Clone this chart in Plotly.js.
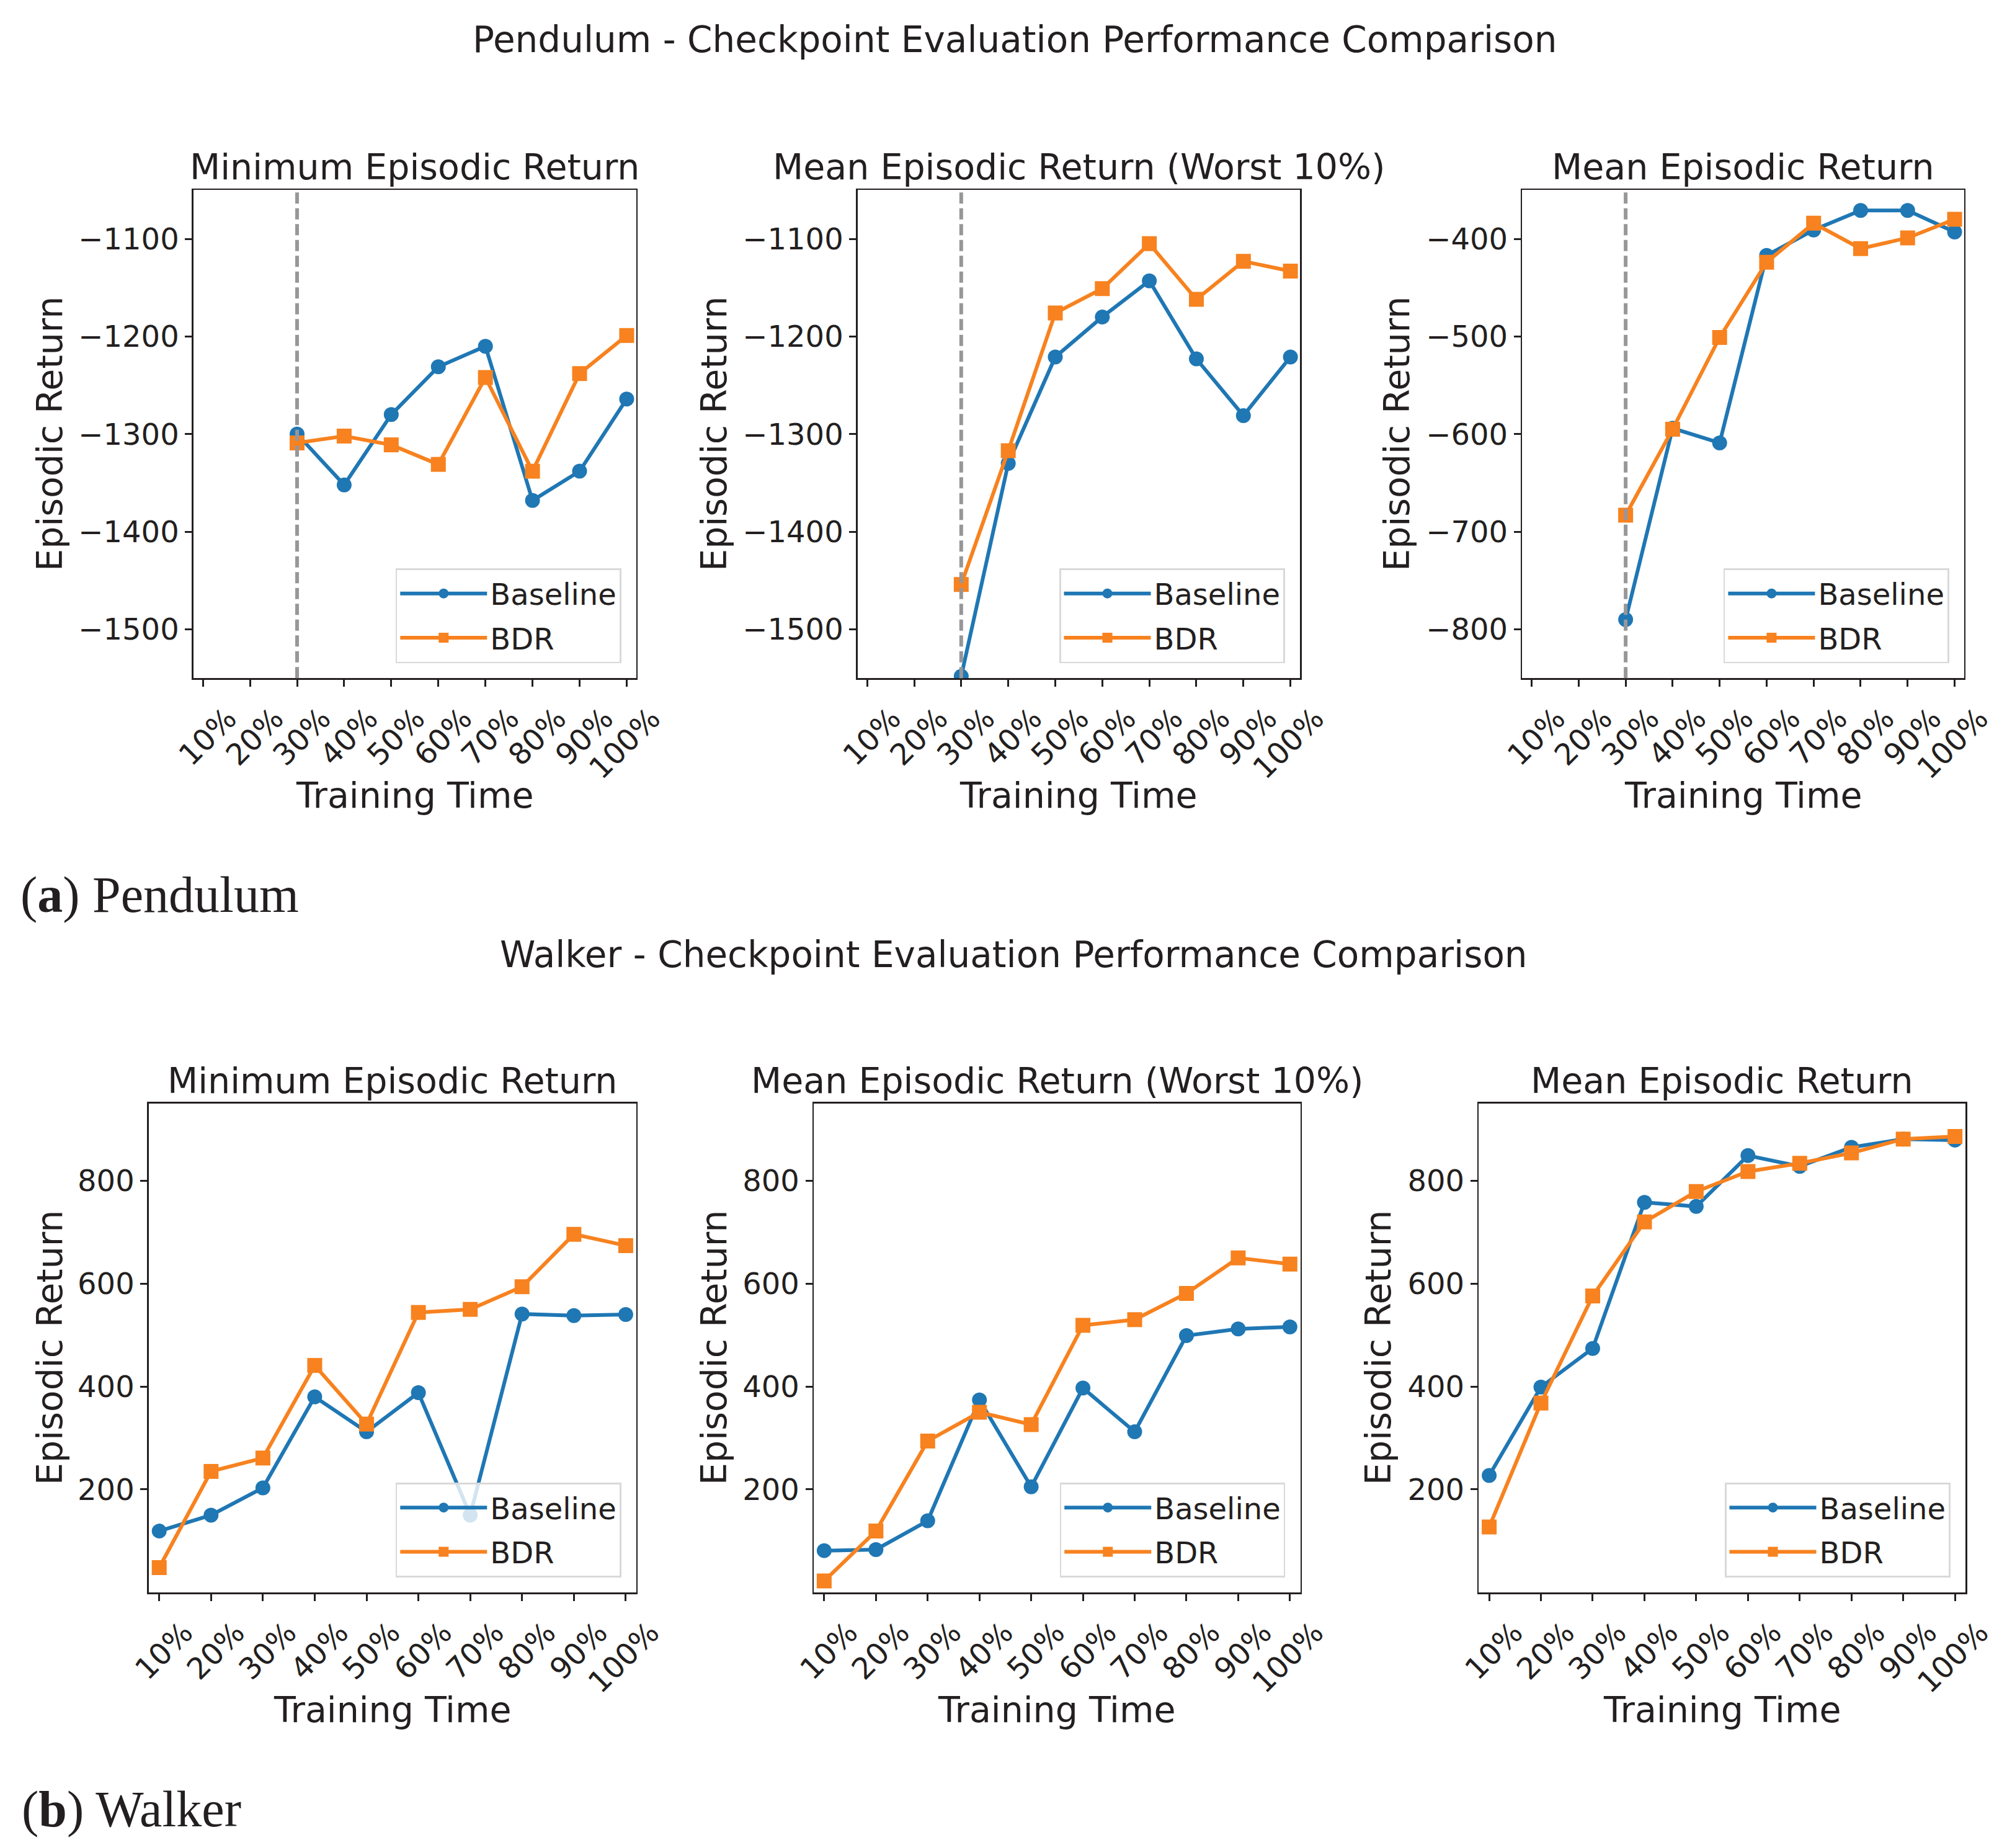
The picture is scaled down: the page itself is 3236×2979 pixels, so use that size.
<!DOCTYPE html>
<html>
<head>
<meta charset="utf-8">
<script src="https://cdn.plot.ly/plotly-3.0.1.min.js"></script>
<style>html,body{margin:0;padding:0;background:#fff;}#chart{width:3236px;height:2979px;}</style>
</head>
<body>
<div id="chart"></div>
<script>
// ---------- data ----------
const categories = ['10%', '20%', '30%', '40%', '50%', '60%', '70%', '80%', '90%', '100%'];
const pendulumCheckpoints = ['30%', '40%', '50%', '60%', '70%', '80%', '90%', '100%'];
const seriesNames = ['Baseline', 'BDR'];
const panelTitles = ['Minimum Episodic Return', 'Mean Episodic Return (Worst 10%)', 'Mean Episodic Return'];
const suptitles = ['Pendulum - Checkpoint Evaluation Performance Comparison', 'Walker - Checkpoint Evaluation Performance Comparison'];
const captions = ['(<b>a</b>) Pendulum', '(<b>b</b>) Walker'];
const xLabel = 'Training Time';
const yLabel = 'Episodic Return';

const pendMinBaseline   = [-1300, -1352, -1280, -1231, -1210, -1368, -1338, -1264];
const pendMinBDR        = [-1309, -1302, -1311, -1331, -1242, -1338, -1238, -1199];
const pendWorstBaseline = [-1548, -1330, -1221, -1180, -1143, -1223, -1281, -1221];
const pendWorstBDR      = [-1454, -1317, -1176, -1151, -1105, -1162, -1123, -1133];
const pendMeanBaseline  = [-790, -594, -609, -417, -391, -371, -371, -393];
const pendMeanBDR       = [-683, -595, -501, -424, -384, -410, -399, -380];

const walkMinBaseline   = [119, 150, 203, 380, 312, 388, 150, 541, 538, 540];
const walkMinBDR        = [48, 235, 261, 441, 327, 544, 550, 594, 696, 674];
const walkWorstBaseline = [81, 83, 139, 374, 205, 397, 312, 499, 512, 516];
const walkWorstBDR      = [22, 119, 294, 350, 326, 519, 530, 581, 650, 638];
const walkMeanBaseline  = [227, 399, 474, 758, 750, 849, 828, 865, 881, 879];
const walkMeanBDR       = [127, 368, 576, 720, 779, 818, 834, 854, 881, 886];

const pendMinTicks  = [-1500, -1400, -1300, -1200, -1100];
const pendMeanTicks = [-800, -700, -600, -500, -400];
const walkTicks     = [200, 400, 600, 800];
const pendMinRange  = [-1550, -1050];
const pendMeanRange = [-850, -350];
const walkRange     = [0, 950];
const thresholdCheckpoint = '30%';

// ---------- layout geometry (pixels) ----------
const W = 3236, H = 2979;
const TEXT = '#231f20';
const BLUE = '#1f77b4', ORANGE = '#f7821f';
const FONT = 'DejaVu Sans, Noto Sans, sans-serif';

const panels = [
  {x: [312, 1025.6],  y: [306.3, 1093.3], b: pendMinBaseline,   r: pendMinBDR,   cats: pendulumCheckpoints, ticks: pendMinTicks,  range: pendMinRange,  title: panelTitles[0], ylabX: 80,   vline: true},
  {x: [1383, 2095.8], y: [306.3, 1093.3], b: pendWorstBaseline, r: pendWorstBDR, cats: pendulumCheckpoints, ticks: pendMinTicks,  range: pendMinRange,  title: panelTitles[1], ylabX: 1151, vline: true},
  {x: [2454.4, 3166.7], y: [306.3, 1093.3], b: pendMeanBaseline, r: pendMeanBDR, cats: pendulumCheckpoints, ticks: pendMeanTicks, range: pendMeanRange, title: panelTitles[2], ylabX: 2252, vline: true},
  {x: [240, 1025.6],  y: [1779, 2566.8], b: walkMinBaseline,   r: walkMinBDR,   cats: categories, ticks: walkTicks, range: walkRange, title: panelTitles[0], ylabX: 80,   vline: false},
  {x: [1312.2, 2096.5], y: [1779, 2566.8], b: walkWorstBaseline, r: walkWorstBDR, cats: categories, ticks: walkTicks, range: walkRange, title: panelTitles[1], ylabX: 1151, vline: false},
  {x: [2384.4, 3168.8], y: [1779, 2566.8], b: walkMeanBaseline,  r: walkMeanBDR,  cats: categories, ticks: walkTicks, range: walkRange, title: panelTitles[2], ylabX: 2222, vline: false}
];

const px = v => v / W;
const py = v => 1 - v / H;

const traces = [];
const layout = {
  width: W, height: H,
  margin: {l: 0, r: 0, t: 0, b: 0, pad: 0},
  paper_bgcolor: '#ffffff', plot_bgcolor: '#ffffff',
  showlegend: true,
  font: {family: FONT, color: TEXT, size: 48},
  shapes: [], annotations: []
};

panels.forEach((p, i) => {
  const n = i + 1;
  const xa = 'xaxis' + (n === 1 ? '' : n), ya = 'yaxis' + (n === 1 ? '' : n);
  const xr = 'x' + (n === 1 ? '' : n), yr = 'y' + (n === 1 ? '' : n);
  const lg = 'legend' + (n === 1 ? '' : n);
  const common = {
    showline: true, mirror: true, linecolor: TEXT, linewidth: 2.7,
    ticks: 'outside', ticklen: 11, tickwidth: 3, tickcolor: TEXT,
    showgrid: false, zeroline: false, fixedrange: true,
    tickfont: {family: FONT, size: 48, color: TEXT}
  };
  layout[xa] = Object.assign({}, common, {
    domain: [px(p.x[0]), px(p.x[1])], anchor: yr,
    type: 'category', categoryorder: 'array', categoryarray: categories,
    range: [-0.2, 9.2], tickangle: -45, ticklabelshift: 40, ticklabelstandoff: 4
  });
  layout[ya] = Object.assign({}, common, {
    domain: [py(p.y[1]), py(p.y[0])], anchor: xr,
    range: p.range, tickmode: 'array', tickvals: p.ticks
  });
  traces.push({
    type: 'scatter', mode: 'lines+markers', x: p.cats, y: p.b, name: seriesNames[0],
    xaxis: xr, yaxis: yr, legend: lg, legendgroup: 'baseline' + n,
    line: {color: BLUE, width: 6}, marker: {color: BLUE, size: 24, symbol: 'circle'}
  });
  traces.push({
    type: 'scatter', mode: 'lines+markers', x: p.cats, y: p.r, name: seriesNames[1],
    xaxis: xr, yaxis: yr, legend: lg, legendgroup: 'bdr' + n,
    line: {color: ORANGE, width: 6}, marker: {color: ORANGE, size: 24, symbol: 'square'}
  });
  layout[lg] = {
    x: px(p.x[1] - 24), y: py(p.y[1] - 24), xanchor: 'right', yanchor: 'bottom',
    xref: 'paper', yref: 'paper',
    bgcolor: 'rgba(255,255,255,0.8)', bordercolor: '#d9d9d9', borderwidth: 2.7,
    font: {family: FONT, size: 48, color: TEXT}, itemwidth: 140,
    traceorder: 'grouped', tracegroupgap: 6
  };
  if (p.vline) {
    layout.shapes.push({
      type: 'line', xref: xr, yref: yr + ' domain', x0: thresholdCheckpoint, x1: thresholdCheckpoint, y0: 0, y1: 1,
      line: {color: '#979799', width: 6, dash: '18px,7.5px'}, layer: 'above'
    });
  }
  const cx = (p.x[0] + p.x[1]) / 2;
  layout.annotations.push({
    text: p.title, xref: 'paper', yref: 'paper', x: px(cx), y: py(p.y[0] - 37),
    xanchor: 'center', yanchor: 'middle', showarrow: false,
    font: {family: FONT, size: 57, color: TEXT}
  });
  layout.annotations.push({
    text: xLabel, xref: 'paper', yref: 'paper', x: px(cx), y: py(p.y[1] + 189),
    xanchor: 'center', yanchor: 'middle', showarrow: false,
    font: {family: FONT, size: 57, color: TEXT}
  });
  layout.annotations.push({
    text: yLabel, xref: 'paper', yref: 'paper', x: px(p.ylabX), y: py((p.y[0] + p.y[1]) / 2),
    xanchor: 'center', yanchor: 'middle', showarrow: false, textangle: -90,
    font: {family: FONT, size: 57, color: TEXT}
  });
});

layout.annotations.push({
  text: suptitles[0], xref: 'paper', yref: 'paper', x: px(1636), y: py(64),
  xanchor: 'center', yanchor: 'middle', showarrow: false, font: {family: FONT, size: 58, color: TEXT}
});
layout.annotations.push({
  text: suptitles[1], xref: 'paper', yref: 'paper', x: px(1634), y: py(1539),
  xanchor: 'center', yanchor: 'middle', showarrow: false, font: {family: FONT, size: 58, color: TEXT}
});
layout.annotations.push({
  text: captions[0], xref: 'paper', yref: 'paper', x: px(31), y: py(1442),
  xanchor: 'left', yanchor: 'middle', showarrow: false, font: {family: 'Liberation Serif, serif', size: 82, color: TEXT}
});
layout.annotations.push({
  text: captions[1], xref: 'paper', yref: 'paper', x: px(33), y: py(2916),
  xanchor: 'left', yanchor: 'middle', showarrow: false, font: {family: 'Liberation Serif, serif', size: 82, color: TEXT}
});

Plotly.newPlot('chart', traces, layout, {staticPlot: true, displayModeBar: false});
</script>
</body>
</html>
